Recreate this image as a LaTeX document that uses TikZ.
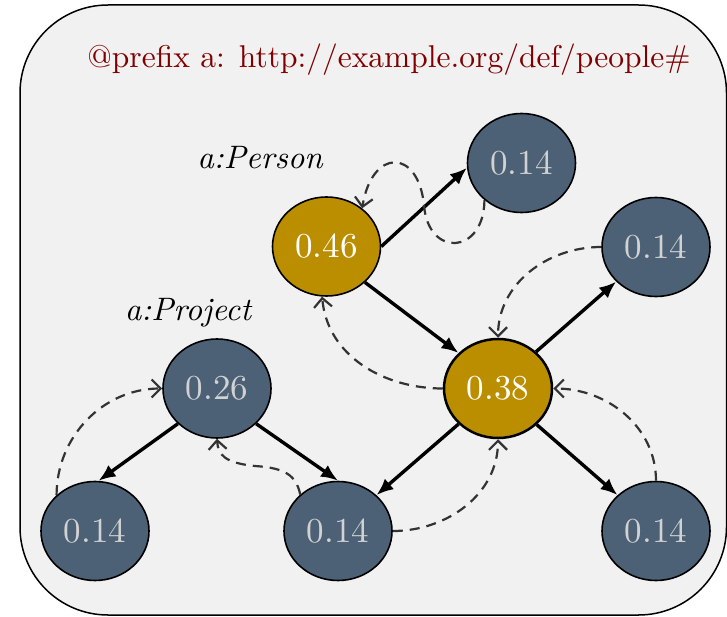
\documentclass[tikz,border=0pt]{standalone}
\usepackage{graphicx}
\usetikzlibrary{shapes.geometric,arrows.meta}
\definecolor{bggray}{RGB}{241,241,241}
\definecolor{goldn}{RGB}{187,142,0}
\definecolor{slaten}{RGB}{76,97,118}
\definecolor{numgray}{RGB}{210,210,210}
\definecolor{prefred}{RGB}{128,0,0}
\definecolor{dashc}{RGB}{51,51,51}
\newcommand{\numtxt}[1]{\scalebox{3.5}{#1}}
\newcommand{\lbltxt}[1]{\scalebox{3.25}{\itshape #1}}
\tikzset{
  pr/.style={ellipse, draw=black, line width=1.6pt, minimum width=108pt, minimum height=99pt, inner sep=0pt},
  hi/.style={pr, fill=goldn, text=white},
  lo/.style={pr, fill=slaten, text=numgray},
  link/.style={line width=3.4pt, -{Latex[length=17pt,width=14pt]}},
  flow/.style={dashc, line width=2.2pt, dash pattern=on 10pt off 7pt, -{Straight Barb[length=9pt,width=18pt,line width=2.2pt]}},
  lbl/.style={inner sep=0pt}
}
\begin{document}
\begin{tikzpicture}[x=1pt,y=-1pt]
\useasboundingbox (0,0) rectangle (727,617);
\draw[fill=bggray, rounded corners=88pt, line width=1.5pt] (20,5) rectangle (726.5,615);
\node[text=prefred, inner sep=0pt] (pref) at (389,60) {\scalebox{3.15}{@prefix a: http://example.org/def/people\#}};
\node[lbl] (lperson) at (260,158) {\lbltxt{a:Person}};
\node[lbl] (lproject) at (188,313) {\lbltxt{a:Project}};

\node[hi] (p) at (326.5,246.5) {\numtxt{0.46}};
\node[lo] (t) at (521.5,163) {\numtxt{0.14}};
\node[hi, line width=2.5pt] (c) at (498,388.5) {\numtxt{0.38}};
\node[lo] (r) at (656,247) {\numtxt{0.14}};
\node[lo] (br) at (656,531) {\numtxt{0.14}};
\node[lo] (j) at (217,388.5) {\numtxt{0.26}};
\node[lo] (bl) at (95,531) {\numtxt{0.14}};
\node[lo] (bm) at (338,531) {\numtxt{0.14}};

\draw[link] (p.east) -- (t.185);
\draw[link] (p.-43) -- (c.138);
\draw[link] (c.44) -- (r.-139);
\draw[link] (c.-43) -- (br.137);
\draw[link] (c.-138) -- (bm.43);
\draw[link] (j.-138) -- (bl.86);
\draw[link] (j.-42) -- (bm.north);

\draw[flow] (t.-135) .. controls (484,255) and (428,258) .. (424,205) .. controls (418,148) and (372,148) .. (p.47);
\draw[flow] (r.west) to[out=180,in=90] (c.north);
\draw[flow] (c.west) to[out=180,in=-85] (p.-95);
\draw[flow] (br.north) to[out=90,in=0] (c.east);
\draw[flow] (bm.east) to[out=0,in=-90] (c.south);
\draw[flow] (bm.136) .. controls (296,475) and (285,468) .. (255,466) .. controls (225,463) and (218,455) .. (j.south);
\draw[flow] (bl.137) to[out=90,in=180] (j.west);
\end{tikzpicture}
\end{document}
